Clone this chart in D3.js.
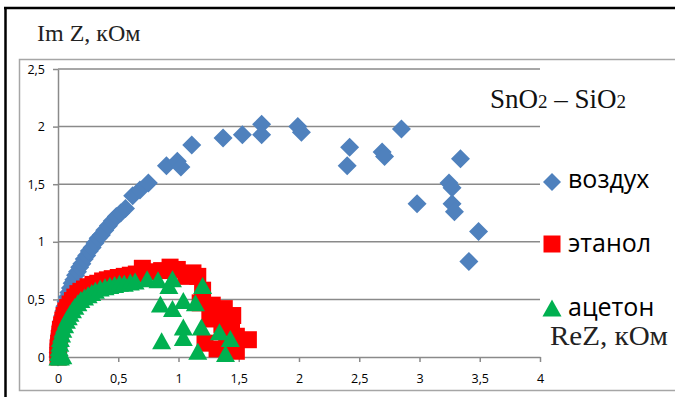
<!DOCTYPE html>
<html>
<head>
<meta charset="utf-8">
<script src="https://cdn.jsdelivr.net/npm/d3@7"></script>
<style>
  body { margin:0; background:white; }
  svg { display:block; }
</style>
</head>
<body>
<div id="chart"></div>
<script>
// axis ticks
var xTicks = [0, 0.5, 1, 1.5, 2, 2.5, 3, 3.5, 4];
var yTicks = [0, 0.5, 1, 1.5, 2, 2.5];

// series names
var seriesNames = ["воздух", "этанол", "ацетон"];

// воздух: [ReZ, ImZ] in kOhm
var airData = [
  [0.000,0.00],[0.001,0.04],[0.003,0.08],[0.006,0.12],[0.010,0.16],[0.014,0.20],
  [0.019,0.24],[0.025,0.28],[0.032,0.32],[0.040,0.36],[0.048,0.40],[0.057,0.44],
  [0.067,0.48],[0.078,0.52],[0.090,0.56],[0.103,0.60],[0.117,0.64],[0.131,0.67],
  [0.146,0.71],[0.162,0.74],[0.180,0.78],[0.198,0.81],[0.218,0.85],[0.238,0.88],
  [0.260,0.92],[0.283,0.95],[0.307,0.99],[0.333,1.03],[0.360,1.06],[0.388,1.10],
  [0.418,1.14],[0.450,1.18],[0.484,1.22],[0.520,1.25],[0.560,1.29],
  [0.62,1.40],[0.68,1.45],[0.75,1.51],[0.90,1.66],[0.99,1.70],[1.02,1.65],
  [1.11,1.84],[1.37,1.90],[1.53,1.93],[1.69,2.02],[1.69,1.93],[1.99,2.00],
  [2.02,1.95],[2.40,1.66],[2.42,1.82],[2.69,1.78],[2.71,1.74],[2.85,1.98],
  [2.98,1.33],[3.245,1.51],[3.27,1.47],[3.27,1.33],[3.29,1.26],[3.34,1.72],
  [3.41,0.83],[3.49,1.09]
];

// этанол
var ethanolData = [
  [0.00,0.00],[0.00,0.04],[0.00,0.08],[0.005,0.12],[0.01,0.16],[0.015,0.20],
  [0.02,0.24],[0.03,0.28],[0.04,0.32],[0.05,0.36],[0.065,0.40],[0.08,0.43],
  [0.10,0.46],[0.12,0.49],[0.14,0.52],[0.165,0.55],[0.19,0.57],[0.22,0.59],
  [0.25,0.61],[0.29,0.63],[0.33,0.64],[0.37,0.66],[0.41,0.67],[0.45,0.68],
  [0.50,0.69],[0.55,0.70],[0.60,0.71],[0.65,0.72],
  [0.70,0.77],[0.78,0.74],[0.86,0.75],[0.93,0.78],[0.99,0.76],[1.06,0.70],
  [1.12,0.73],[1.16,0.70],[1.20,0.58],[1.18,0.47],[1.28,0.45],[1.32,0.40],
  [1.38,0.42],[1.45,0.36],[1.26,0.33],[1.36,0.28],[1.44,0.25],[1.48,0.18],
  [1.58,0.15],[1.40,0.10],[1.32,0.07],[1.48,0.05],[1.22,0.12]
];

// ацетон
var acetoneData = [
  [0.00,0.00],[0.02,0.00],[0.04,0.01],[0.005,0.04],[0.01,0.08],[0.015,0.12],
  [0.02,0.16],[0.03,0.20],[0.04,0.24],[0.055,0.28],[0.07,0.32],[0.085,0.35],
  [0.10,0.38],[0.12,0.41],[0.14,0.44],[0.165,0.47],[0.19,0.50],[0.22,0.52],
  [0.25,0.54],[0.28,0.56],[0.31,0.58],[0.35,0.60],[0.39,0.61],[0.43,0.62],
  [0.47,0.63],[0.51,0.64],[0.55,0.64],[0.60,0.65],[0.64,0.66],
  [0.74,0.68],[0.83,0.67],[0.95,0.68],[0.92,0.62],[0.85,0.46],[0.95,0.42],
  [1.04,0.49],[1.14,0.47],[1.20,0.62],[0.86,0.14],[1.04,0.26],[1.04,0.17],
  [1.16,0.05],[1.19,0.26],[1.34,0.22],[1.43,0.16],[1.39,0.03]
];

var W = 675, H = 397;
var colAir = "#4F81BD", colEth = "#FF0000", colAce = "#00B050";
var gridCol = "#8a8a8a";

var svg = d3.select("#chart").append("svg")
  .attr("width", W)
  .attr("height", H);

var x = d3.scaleLinear().domain([0, 4]).range([58, 540]);
var y = d3.scaleLinear().domain([0, 2.5]).range([357, 69]);

var fmt = function(d){ return String(d).replace(".", ","); };

//Frames
svg.append("rect")
  .attr("x", 19.5).attr("y", 59.5)
  .attr("width", 700).attr("height", 331)
  .attr("fill", "none")
  .attr("stroke", "#a6a6a6")
  .attr("stroke-width", 1.5);

svg.append("line")
  .attr("x1", 4).attr("x2", W).attr("y1", 8).attr("y2", 8)
  .attr("stroke", "black").attr("stroke-width", 2.5);
svg.append("line")
  .attr("x1", 5.5).attr("x2", 5.5).attr("y1", 7).attr("y2", H)
  .attr("stroke", "black").attr("stroke-width", 2.5);

//Gridlines
svg.append("g")
  .selectAll("line")
  .data(yTicks.filter(function(d){ return d > 0; }))
  .enter().append("line")
  .attr("x1", x(0)).attr("x2", x(4))
  .attr("y1", function(d){ return y(d); })
  .attr("y2", function(d){ return y(d); })
  .attr("stroke", gridCol)
  .attr("stroke-width", 1.5);

//Axes
var yAxis = svg.append("g")
  .attr("transform", "translate(" + x(0) + ",0)")
  .call(d3.axisLeft(y).tickValues(yTicks).tickFormat(fmt).tickSize(5).tickSizeOuter(0).tickPadding(8));

var xAxis = svg.append("g")
  .attr("transform", "translate(0," + y(0) + ")")
  .call(d3.axisBottom(x).tickValues(xTicks).tickFormat(fmt).tickSize(5).tickSizeOuter(0).tickPadding(12));

[yAxis, xAxis].forEach(function(a){
  a.select(".domain").attr("stroke", gridCol).attr("stroke-width", 1.5);
  a.selectAll(".tick line").attr("stroke", gridCol).attr("stroke-width", 1.5);
  a.selectAll(".tick text")
    .attr("fill", "black")
    .style("font-family", "'Open Sans', sans-serif")
    .style("font-size", "12.5px");
});

//Marker shapes
var diamond = "M0,-9.5L9.5,0L0,9.5L-9.5,0Z";
var square = "M-8.5,-8.5H8.5V8.5H-8.5Z";
var triangle = "M0,-8.5L9.5,8.5L-9.5,8.5Z";

function drawSeries(data, shape, col){
  svg.append("g")
    .selectAll("path")
    .data(data)
    .enter().append("path")
    .attr("d", shape)
    .attr("fill", col)
    .attr("transform", function(d){ return "translate(" + x(d[0]) + "," + y(d[1]) + ")"; });
}

drawSeries(airData, diamond, colAir);
drawSeries(ethanolData, square, colEth);
drawSeries(acetoneData, triangle, colAce);

//Legend
var legend = [
  {name: seriesNames[0], shape: "M0,-9L9,0L0,9L-9,0Z", col: colAir, y: 182, ty: 188},
  {name: seriesNames[1], shape: square, col: colEth, y: 244, ty: 252},
  {name: seriesNames[2], shape: triangle, col: colAce, y: 308, ty: 316}
];
legend.forEach(function(l){
  svg.append("path")
    .attr("d", l.shape)
    .attr("fill", l.col)
    .attr("transform", "translate(552," + l.y + ")");
  svg.append("text")
    .attr("x", 568).attr("y", l.ty)
    .style("font-family", "'Open Sans', sans-serif")
    .style("font-size", "25px")
    .attr("fill", "black")
    .text(l.name);
});

//Titles
svg.append("text")
  .attr("x", 37).attr("y", 41)
  .style("font-family", "'Liberation Serif', serif")
  .style("font-size", "24px")
  .attr("fill", "#222")
  .text("Im Z, кОм");

svg.append("text")
  .attr("x", 550).attr("y", 345)
  .style("font-family", "'Liberation Serif', serif")
  .style("font-size", "27px")
  .attr("fill", "#222")
  .attr("textLength", 118)
  .attr("lengthAdjust", "spacingAndGlyphs")
  .text("ReZ, кОм");

var sn = svg.append("text")
  .attr("x", 490).attr("y", 108)
  .style("font-family", "'Liberation Serif', serif")
  .style("font-size", "27px")
  .attr("fill", "#111");
sn.append("tspan").text("SnO");
sn.append("tspan").style("font-size", "19px").text("2");
sn.append("tspan").text(" – SiO");
sn.append("tspan").style("font-size", "19px").text("2");
</script>
</body>
</html>
